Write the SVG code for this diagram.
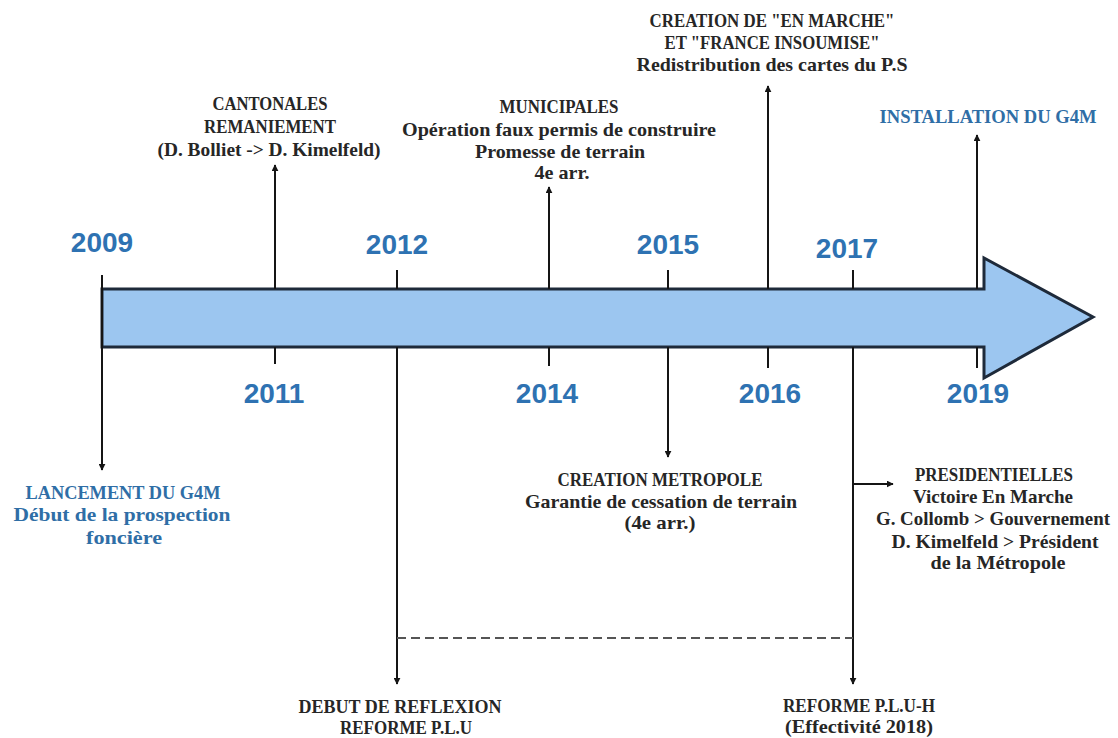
<svg xmlns="http://www.w3.org/2000/svg" width="1118" height="738" viewBox="0 0 1118 738">
<style>
.lbl{font-family:"Liberation Serif","Times New Roman",serif;font-weight:bold;font-size:19px;fill:#262626;text-anchor:middle}
.blue{fill:#2f6ea6}
.yr{font-family:"Liberation Sans",Arial,sans-serif;font-weight:bold;font-size:28px;fill:#2e72b2;text-anchor:middle}
.ln{stroke:#151515;stroke-width:2;fill:none}
</style>
<defs>
<marker id="ah" viewBox="0 0 10 10" refX="9" refY="5" markerWidth="7" markerHeight="7" markerUnits="userSpaceOnUse" orient="auto">
<path d="M0,0 L10,5 L0,10 z" fill="#151515"/>
</marker>
</defs>
<rect width="1118" height="738" fill="#ffffff"/>
<g id="timeline-arrow">
<polygon points="102,289 984,289 984,258 1093,317 984,378 984,347 102,347" fill="#9cc6f0" stroke="#1e2a3a" stroke-width="3" stroke-linejoin="miter"/>
</g>
<g id="connectors">
<line class="ln" x1="102" y1="275" x2="102" y2="470" marker-end="url(#ah)"/>
<line class="ln" x1="275" y1="289" x2="275" y2="165" marker-end="url(#ah)"/>
<line class="ln" x1="275" y1="347" x2="275" y2="364"/>
<line class="ln" x1="397" y1="270" x2="397" y2="289"/>
<line class="ln" x1="397" y1="347" x2="397" y2="684" marker-end="url(#ah)"/>
<line class="ln" x1="549" y1="289" x2="549" y2="187" marker-end="url(#ah)"/>
<line class="ln" x1="549" y1="347" x2="549" y2="366"/>
<line class="ln" x1="668" y1="270" x2="668" y2="289"/>
<line class="ln" x1="668" y1="347" x2="668" y2="457" marker-end="url(#ah)"/>
<line class="ln" x1="768" y1="289" x2="768" y2="86" marker-end="url(#ah)"/>
<line class="ln" x1="768" y1="347" x2="768" y2="368"/>
<line class="ln" x1="853" y1="270" x2="853" y2="289"/>
<line class="ln" x1="853" y1="347" x2="853" y2="684" marker-end="url(#ah)"/>
<line class="ln" x1="853" y1="484" x2="893" y2="484" marker-end="url(#ah)"/>
<line class="ln" x1="977" y1="289" x2="977" y2="135" marker-end="url(#ah)"/>
<line class="ln" x1="977" y1="347" x2="977" y2="368"/>
<line x1="397" y1="638" x2="853" y2="638" stroke="#555555" stroke-width="2" stroke-dasharray="9 5"/>
</g>
<g id="years">
<text class="yr" x="102" y="252">2009</text>
<text class="yr" x="397" y="254">2012</text>
<text class="yr" x="668" y="254">2015</text>
<text class="yr" x="847" y="258">2017</text>
<text class="yr" x="274" y="403">2011</text>
<text class="yr" x="547" y="403">2014</text>
<text class="yr" x="770" y="403">2016</text>
<text class="yr" x="978" y="403">2019</text>
</g>
<g id="n-en-marche">
<text class="lbl" x="772" y="27" textLength="245" lengthAdjust="spacingAndGlyphs">CREATION DE "EN MARCHE"</text>
<text class="lbl" x="772" y="49" textLength="215" lengthAdjust="spacingAndGlyphs">ET "FRANCE INSOUMISE"</text>
<text class="lbl" x="772" y="71" textLength="271" lengthAdjust="spacingAndGlyphs">Redistribution des cartes du P.S</text>
</g>
<g id="n-cantonales">
<text class="lbl" x="270" y="110" textLength="115" lengthAdjust="spacingAndGlyphs">CANTONALES</text>
<text class="lbl" x="270" y="133" textLength="132" lengthAdjust="spacingAndGlyphs">REMANIEMENT</text>
<text class="lbl" x="269" y="156" textLength="223" lengthAdjust="spacingAndGlyphs">(D. Bolliet -&gt; D. Kimelfeld)</text>
</g>
<g id="n-municipales">
<text class="lbl" x="559" y="113" textLength="119" lengthAdjust="spacingAndGlyphs">MUNICIPALES</text>
<text class="lbl" x="559" y="136" textLength="314" lengthAdjust="spacingAndGlyphs">Opération faux permis de construire</text>
<text class="lbl" x="560" y="158" textLength="170" lengthAdjust="spacingAndGlyphs">Promesse de terrain</text>
<text class="lbl" x="562" y="179" textLength="55" lengthAdjust="spacingAndGlyphs">4e arr.</text>
</g>
<g id="n-installation">
<text class="lbl blue" x="988" y="123" textLength="217" lengthAdjust="spacingAndGlyphs">INSTALLATION DU G4M</text>
</g>
<g id="n-lancement">
<text class="lbl blue" x="123" y="499" textLength="195" lengthAdjust="spacingAndGlyphs">LANCEMENT DU G4M</text>
<text class="lbl blue" x="122" y="521" textLength="217" lengthAdjust="spacingAndGlyphs">Début de la prospection</text>
<text class="lbl blue" x="124" y="544" textLength="76" lengthAdjust="spacingAndGlyphs">foncière</text>
</g>
<g id="n-metropole">
<text class="lbl" x="660" y="486" textLength="205" lengthAdjust="spacingAndGlyphs">CREATION METROPOLE</text>
<text class="lbl" x="661" y="508" textLength="272" lengthAdjust="spacingAndGlyphs">Garantie de cessation de terrain</text>
<text class="lbl" x="660" y="529" textLength="71" lengthAdjust="spacingAndGlyphs">(4e arr.)</text>
</g>
<g id="n-presidentielles">
<text class="lbl" x="994" y="481" textLength="158" lengthAdjust="spacingAndGlyphs">PRESIDENTIELLES</text>
<text class="lbl" x="993" y="503" textLength="160" lengthAdjust="spacingAndGlyphs">Victoire En Marche</text>
<text class="lbl" x="993" y="525" textLength="234" lengthAdjust="spacingAndGlyphs">G. Collomb &gt; Gouvernement</text>
<text class="lbl" x="995" y="548" textLength="207" lengthAdjust="spacingAndGlyphs">D. Kimelfeld &gt; Président</text>
<text class="lbl" x="998" y="569" textLength="135" lengthAdjust="spacingAndGlyphs">de la Métropole</text>
</g>
<g id="n-debut-reflexion">
<text class="lbl" x="400" y="713" textLength="203" lengthAdjust="spacingAndGlyphs">DEBUT DE REFLEXION</text>
<text class="lbl" x="406" y="734" textLength="132" lengthAdjust="spacingAndGlyphs">REFORME P.L.U</text>
</g>
<g id="n-plu-h">
<text class="lbl" x="859" y="712" textLength="152" lengthAdjust="spacingAndGlyphs">REFORME P.L.U-H</text>
<text class="lbl" x="859" y="733" textLength="148" lengthAdjust="spacingAndGlyphs">(Effectivité 2018)</text>
</g>
</svg>
